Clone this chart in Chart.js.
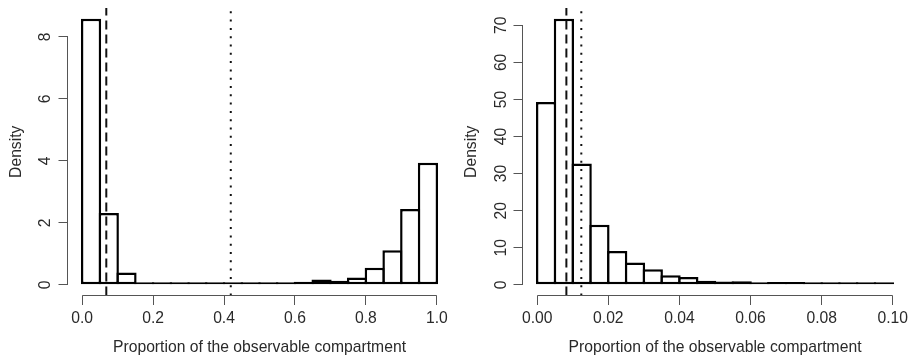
<!DOCTYPE html>
<html>
<head>
<meta charset="utf-8">
<script src="https://cdn.jsdelivr.net/npm/chart.js@4/dist/chart.umd.min.js"></script>
<style>
  html, body { margin: 0; padding: 0; background: #fff; }
  #wrap { position: relative; width: 911px; height: 361px; }
  canvas { position: absolute; top: 0; }
</style>
</head>
<body>
<div id="wrap">
  <canvas id="left" width="455" height="361" style="left:0"></canvas>
  <canvas id="right" width="456" height="361" style="left:455px"></canvas>
</div>
<script>
// left panel - lower bin edges, bin width 0.05
var leftBins = [0.00, 0.05, 0.10, 0.15, 0.20, 0.25, 0.30, 0.35, 0.40, 0.45,
                0.50, 0.55, 0.60, 0.65, 0.70, 0.75, 0.80, 0.85, 0.90, 0.95, 1.00];
var leftDensity = [8.59, 2.32, 0.40, 0.08, 0.02, 0.01, 0.01, 0.01, 0.01, 0.01,
                   0.01, 0.05, 0.10, 0.17, 0.13, 0.24, 0.55, 1.12, 2.45, 3.94];
var leftTicksX = [0, 0.2, 0.4, 0.6, 0.8, 1.0];
var leftTicksY = [0, 2, 4, 6, 8];
var leftDashed = 0.068;
var leftDotted = 0.419;

// right panel - lower bin edges, bin width 0.005
var rightBins = [0.000, 0.005, 0.010, 0.015, 0.020, 0.025, 0.030, 0.035, 0.040, 0.045,
                 0.050, 0.055, 0.060, 0.065, 0.070, 0.075, 0.080, 0.085, 0.090, 0.095, 0.100];
var rightDensity = [49.3, 71.8, 32.7, 16.2, 9.1, 6.0, 4.2, 2.6, 2.1, 1.1,
                    0.9, 1.0, 0.6, 0.8, 0.8, 0.4, 0.4, 0.2, 0.15, 0.2];
var rightTicksX = [0, 0.02, 0.04, 0.06, 0.08, 0.10];
var rightTicksY = [0, 10, 20, 30, 40, 50, 60, 70];
var rightDashed = 0.0082;
var rightDotted = 0.0124;

var xTitle = 'Proportion of the observable compartment';
var yTitle = 'Density';

Chart.defaults.font.family = '"Liberation Sans", Arial, Helvetica, sans-serif';
Chart.defaults.font.size = 15.7;
Chart.defaults.color = '#2a2a2a';

// R style axis line: only from first to last tick
var axisLines = {
  id: 'axisLines',
  afterDraw: function (chart) {
    var ctx = chart.ctx, area = chart.chartArea;
    var xs = chart.scales.x, ys = chart.scales.y;
    var xa = xs.getPixelForValue(xs.ticks[0].value);
    var xb = xs.getPixelForValue(xs.ticks[xs.ticks.length - 1].value);
    var ya = ys.getPixelForValue(ys.ticks[0].value);
    var yb = ys.getPixelForValue(ys.ticks[ys.ticks.length - 1].value);
    var bx = Math.round(area.left) - 0.5;
    var by = Math.floor(area.bottom) + 0.5;
    ctx.save();
    ctx.strokeStyle = '#555';
    ctx.lineWidth = 1;
    ctx.beginPath();
    ctx.moveTo(xa, by); ctx.lineTo(xb, by);
    ctx.moveTo(bx, ya); ctx.lineTo(bx, yb);
    ctx.stroke();
    ctx.restore();
  }
};

function makeHist(id, bins, density, ticksX, ticksY, decimals, dashed, dotted, yPad) {
  var lo = bins[0], hi = bins[bins.length - 1];
  var bars = [];
  for (var i = 0; i < density.length; i++) {
    bars.push({ x: (bins[i] + bins[i + 1]) / 2, y: density[i] });
  }
  var top = Math.max.apply(null, density);
  var yMin = -0.04 * top, yMax = 1.04 * top;

  return new Chart(document.getElementById(id), {
    type: 'bar',
    data: {
      datasets: [
        {
          type: 'line', order: 0,
          data: [{ x: dashed, y: yMin }, { x: dashed, y: yMax }],
          borderColor: '#111', borderWidth: 2, borderDash: [9, 5],
          pointRadius: 0, fill: false
        },
        {
          type: 'line', order: 0,
          data: [{ x: dotted, y: yMin }, { x: dotted, y: yMax }],
          borderColor: '#111', borderWidth: 2, borderDash: [2, 6.3],
          pointRadius: 0, fill: false
        },
        {
          order: 1,
          data: bars,
          backgroundColor: '#fff',
          borderColor: '#000',
          borderWidth: 2.5,
          borderSkipped: false,
          barPercentage: 1.14,
          categoryPercentage: 1,
          minBarLength: 2.5
        }
      ]
    },
    options: {
      responsive: false,
      animation: false,
      devicePixelRatio: 1,
      layout: { padding: { top: 8, right: 4, left: 0, bottom: 0 } },
      plugins: { legend: { display: false }, tooltip: { enabled: false } },
      scales: {
        x: {
          type: 'linear',
          offset: false,
          min: lo - 0.04 * (hi - lo),
          max: hi + 0.04 * (hi - lo),
          afterBuildTicks: function (s) { s.ticks = ticksX.map(function (v) { return { value: v }; }); },
          afterFit: function (s) { s.height = 65.5; s.paddingLeft = 0; s.paddingRight = 0; },
          ticks: {
            autoSkip: false, maxRotation: 0, padding: 4, color: '#2a2a2a',
            callback: function (v) { return Number(v).toFixed(decimals); }
          },
          grid: { offset: false, drawOnChartArea: false, tickLength: 9.5, color: '#555' },
          border: { display: false },
          title: { display: true, text: xTitle, color: '#2a2a2a', padding: { top: 0, bottom: 4 } }
        },
        y: {
          min: yMin,
          max: yMax,
          afterBuildTicks: function (s) { s.ticks = ticksY.map(function (v) { return { value: v }; }); },
          afterFit: function (s) { s.width = 68; s.paddingTop = 0; s.paddingBottom = 0; },
          ticks: {
            autoSkip: false, minRotation: 90, maxRotation: 90, crossAlign: 'center',
            padding: yPad, color: '#2a2a2a',
            callback: function (v) { return String(v); }
          },
          grid: { drawOnChartArea: false, tickLength: 9.5, color: '#555' },
          border: { display: false },
          title: { display: true, text: yTitle, color: '#2a2a2a', padding: { top: 7, bottom: 0 } }
        }
      }
    },
    plugins: [axisLines]
  });
}

makeHist('left', leftBins, leftDensity, leftTicksX, leftTicksY, 1, leftDashed, leftDotted, 8);
makeHist('right', rightBins, rightDensity, rightTicksX, rightTicksY, 2, rightDashed, rightDotted, 3);
</script>
</body>
</html>
